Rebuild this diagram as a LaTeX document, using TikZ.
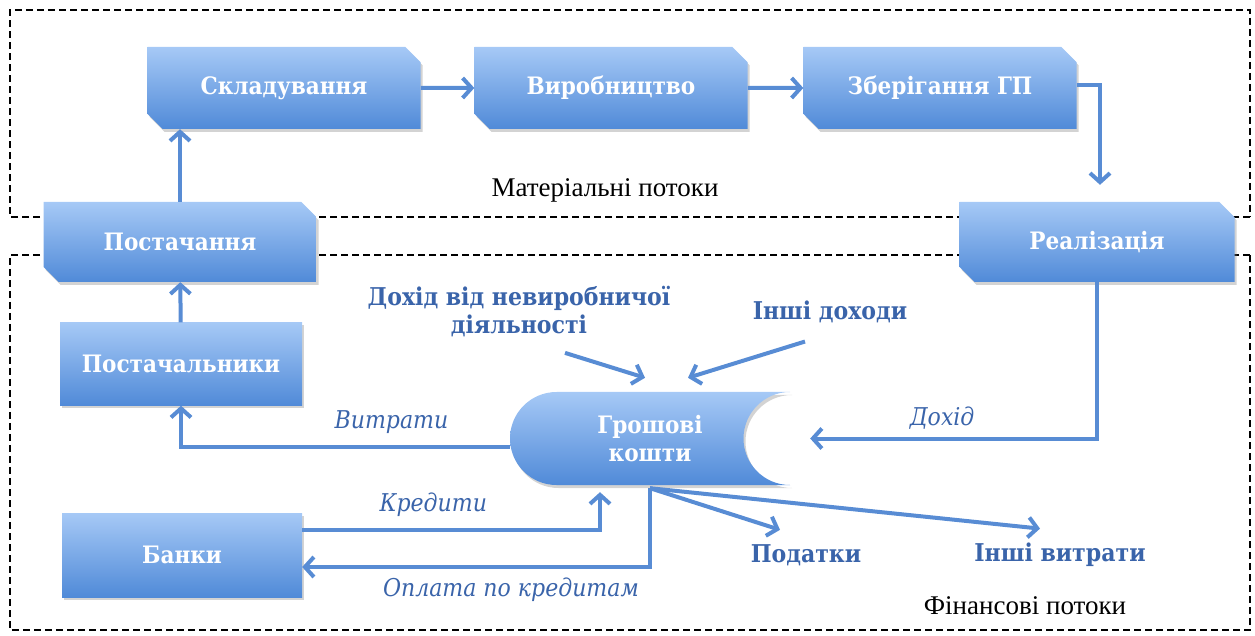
\documentclass[tikz,border=0pt]{standalone}
\usepackage{fontspec}
\setmainfont{Liberation Serif}
\newfontfamily\boxfont{DejaVu Serif Condensed}
\usetikzlibrary{shapes.misc,shadows,arrows.meta}
\definecolor{boxtop}{RGB}{166,201,246}
\definecolor{boxbot}{RGB}{80,138,216}
\definecolor{flow}{RGB}{88,140,212}
\definecolor{lbl}{RGB}{58,100,170}

\begin{document}
\begin{tikzpicture}[x=1pt,y=1pt,
  shade/.style={top color=boxtop, bottom color=boxbot, draw=none,
    drop shadow={opacity=.35, shadow xshift=2pt, shadow yshift=-3pt}},
  plainbox/.style={shade, rectangle, minimum width=242pt, minimum height=83pt,
    text=white, font=\boxfont\bfseries\fontsize{24}{28}\selectfont},
  cutbox/.style={plainbox, chamfered rectangle,
    chamfered rectangle corners={north east,south west},
    chamfered rectangle xsep=12pt, minimum width=273pt, minimum height=82pt},
  flowline/.style={draw=flow, line width=4pt,
    -{Straight Barb[length=9pt,width=20pt,line width=4pt]}},
  blabel/.style={text=lbl, font=\boxfont\bfseries\fontsize{24.5}{28}\selectfont},
  ilabel/.style={text=lbl, font=\boxfont\itshape\fontsize{24.5}{28}\selectfont},
  zone/.style={draw, dashed, line width=1.6pt, dash pattern=on 7pt off 4pt}]
\useasboundingbox (0,0) rectangle (1255,635);
% zones
\draw[zone] (1250,418) -- (10,418) -- (10,625) -- (1250,625) -- cycle;
\draw[zone] (1250,380) -- (10,380) -- (10,5) -- (1250,5) -- cycle;
\node (mat) at (605,445) {\fontsize{27}{30}\selectfont Матеріальні потоки};
\node (fin) at (1025,29) {\fontsize{27}{30}\selectfont Фінансові потоки};

% material flow
\node[cutbox] (sklad) at (284,547) {Складування};
\node[cutbox] (vyrob) at (611,547) {Виробництво};
\node[cutbox] (zber) at (940,547) {Зберігання ГП};
\node[cutbox, minimum height=80pt] (postach) at (180,393) {Постачання};
\node[cutbox, minimum width=275pt, minimum height=80pt] (real) at (1097,393) {Реалізація};
\node[plainbox] (suppl) at (181,271) {Постачальники};
\node[plainbox, minimum width=240pt, minimum height=84pt] (banks) at (182,80) {Банки};

% money
\coordinate (mc) at (650,196.5);
\path[shade] (mc) ++(140,46.5) -- ++(-233.5,0) arc (90:270:46.5)
  -- ++(233.5,0) arc (270:90:46.5) -- cycle;
\node[minimum width=280pt, minimum height=93pt, align=center, text=white,
  font=\boxfont\bfseries\fontsize{24}{28}\selectfont] (money) at (mc) {Грошові\\кошти};

\node[blabel, align=center] (nonprod) at (519,323) {Дохід від невиробничої\\діяльності};
\node[blabel] (othinc) at (830,323) {Інші доходи};
\node[blabel] (tax) at (806,80) {Податки};
\node[blabel] (othexp) at (1060,80) {Інші витрати};

\draw[flowline] (sklad) -- (vyrob);
\draw[flowline] (vyrob) -- (zber);
\draw[flowline] ([yshift=3pt]zber.east) -| ([xshift=3pt,yshift=17pt]real.north);
\draw[flowline] (postach.north) -- (postach.north |- sklad.south);
\draw[flowline] (suppl) -- (postach);
\draw[flowline] (real.south) |- ([xshift=20pt]money.east)
  node[ilabel, pos=.77, above=4pt] (inc) {Дохід};
\draw[flowline] ([yshift=-8pt]money.west) -| (suppl.south)
  node[ilabel, pos=.18, above=8pt] (cost) {Витрати};
\draw[flowline] ([yshift=25pt]banks.east) -| ([xshift=-50pt,yshift=-7pt]money.south)
  node[ilabel, pos=.22, above=8pt] (cred) {Кредити};
\draw[flowline] ([yshift=-3pt]money.south) |- ([yshift=-12pt]banks.east)
  node[ilabel, pos=.7, below=6pt] (pay) {Оплата по кредитам};
\draw[flowline] ([yshift=-3pt]money.south) -- ([xshift=-26pt,yshift=11pt]tax.north);
\draw[flowline] ([yshift=-3pt]money.south) -- ([xshift=-20pt,yshift=11pt]othexp.north);
\draw[flowline] ([xshift=46pt,yshift=-12pt]nonprod.south) -- ([xshift=-5pt,yshift=14pt]money.north);
\draw[flowline] ([xshift=-25pt,yshift=-15pt]othinc.south) -- ([xshift=38pt,yshift=14pt]money.north);
\end{tikzpicture}
\end{document}
